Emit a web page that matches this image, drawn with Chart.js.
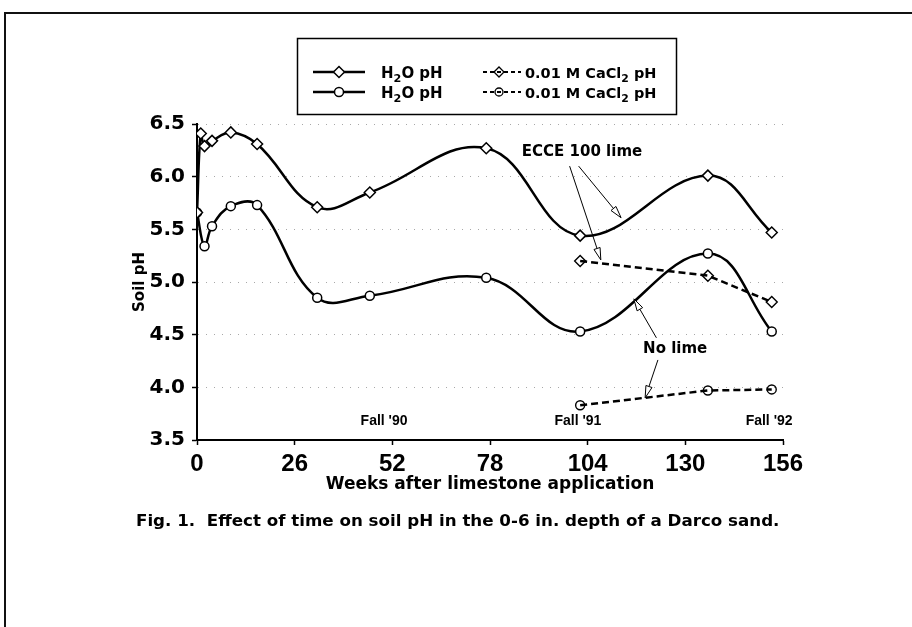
<!DOCTYPE html>
<html>
<head>
<meta charset="utf-8">
<title>Soil pH over time</title>
<script src="https://cdn.jsdelivr.net/npm/chart.js@4"></script>
<style>
  html, body { margin: 0; padding: 0; background: #fff; }
  #wrap { position: relative; width: 912px; height: 627px; overflow: hidden; }
  #frame {
    position: absolute; left: 4px; top: 12px; width: 908px; height: 615px;
    border-top: 2px solid #111; border-left: 2px solid #111; box-sizing: border-box;
  }
  #caption {
    position: absolute; left: 136px; top: 510px;
    font: bold 16.7px "DejaVu Sans", sans-serif; white-space: nowrap; color: #000;
  }
  canvas { position: absolute; left: 0; top: 0; }
</style>
</head>
<body>
<div id="wrap">
  <div id="frame"></div>
  <canvas id="ph-chart" width="912" height="627"></canvas>
  <div id="caption">Fig. 1.&nbsp; Effect of time on soil pH in the 0-6 in. depth of a Darco sand.</div>
</div>
<script>
// weeks after limestone application
const weeksLimeH2O = [0, 1, 2, 4, 9, 16, 32, 46, 77, 102, 136, 153];
const phLimeH2O = [5.66, 6.41, 6.29, 6.34, 6.42, 6.31, 5.71, 5.85, 6.27, 5.44, 6.01, 5.47];

const weeksNoLimeH2O = [0, 2, 4, 9, 16, 32, 46, 77, 102, 136, 153];
const phNoLimeH2O = [5.66, 5.34, 5.53, 5.72, 5.73, 4.85, 4.87, 5.04, 4.53, 5.27, 4.53];

const weeksCaCl2 = [102, 136, 153];
const phLimeCaCl2 = [5.20, 5.06, 4.81];
const phNoLimeCaCl2 = [3.83, 3.97, 3.98];

const xTicks = [0, 26, 52, 78, 104, 130, 156];
const yTicks = [3.5, 4.0, 4.5, 5.0, 5.5, 6.0, 6.5];

const seasonLabels = ["Fall '90", "Fall '91", "Fall '92"];
const seasonWeeks = [49.8, 101.4, 152.3];

Chart.defaults.font.family = '"DejaVu Sans", sans-serif';
Chart.defaults.color = '#000';

function toPoints(xs, ys) {
  return xs.map((x, i) => ({ x: x, y: ys[i] }));
}

// text + arrows placed in data space
const notes = [
  { text: 'ECCE 100 lime', x: 102.5, y: 6.23 },
  { text: 'No lime', x: 127.3, y: 4.36 }
];
const arrows = [
  { from: [99.2, 6.10], to: [107.5, 5.21] },
  { from: [101.6, 6.10], to: [112.9, 5.61] },
  { from: [122.3, 4.47], to: [116.3, 4.84] },
  { from: [122.7, 4.26], to: [119.3, 3.90] }
];

function drawArrow(ctx, x1, y1, x2, y2) {
  const ang = Math.atan2(y2 - y1, x2 - x1);
  const len = 12, half = 3.2;
  const bx = x2 - Math.cos(ang) * len;
  const by = y2 - Math.sin(ang) * len;
  ctx.beginPath();
  ctx.moveTo(x1, y1);
  ctx.lineTo(bx, by);
  ctx.stroke();
  ctx.beginPath();
  ctx.moveTo(x2, y2);
  ctx.lineTo(bx + Math.sin(ang) * half, by - Math.cos(ang) * half);
  ctx.lineTo(bx - Math.sin(ang) * half, by + Math.cos(ang) * half);
  ctx.closePath();
  ctx.fillStyle = '#fff';
  ctx.fill();
  ctx.stroke();
}

// draws "H2O pH" style text with a lowered small 2
function drawSubText(ctx, parts, x, y, size) {
  let cx = x;
  parts.forEach(p => {
    ctx.font = `bold ${p.sub ? size * 0.75 : size}px "DejaVu Sans"`;
    ctx.fillText(p.t, cx, p.sub ? y + size * 0.3 : y);
    cx += ctx.measureText(p.t).width;
  });
}

const notesPlugin = {
  id: 'notes',
  afterDatasetsDraw(chart) {
    const { ctx, scales: { x, y } } = chart;
    ctx.save();
    ctx.fillStyle = '#000';
    ctx.textAlign = 'center';
    ctx.textBaseline = 'middle';
    ctx.font = 'bold 15px "DejaVu Sans"';
    notes.forEach(n => ctx.fillText(n.text, x.getPixelForValue(n.x), y.getPixelForValue(n.y)));

    ctx.font = 'bold 14px "Liberation Sans"';
    seasonLabels.forEach((s, i) => {
      ctx.fillText(s, x.getPixelForValue(seasonWeeks[i]), y.getPixelForValue(3.68));
    });

    ctx.strokeStyle = '#000';
    ctx.lineWidth = 1;
    arrows.forEach(a => {
      drawArrow(ctx,
        x.getPixelForValue(a.from[0]), y.getPixelForValue(a.from[1]),
        x.getPixelForValue(a.to[0]), y.getPixelForValue(a.to[1]));
    });
    ctx.restore();
  },
  afterDraw(chart) {
    const ctx = chart.ctx;
    ctx.save();
    // legend box
    ctx.strokeStyle = '#000';
    ctx.lineWidth = 1.5;
    ctx.strokeRect(297.5, 38.5, 379, 76);

    const rows = [
      { y: 72, style: 'rectRot', r: 5.5 },
      { y: 92, style: 'circle', r: 4.5 }
    ];
    rows.forEach(row => {
      // solid H2O sample
      ctx.setLineDash([]);
      ctx.lineWidth = 2.5;
      ctx.beginPath(); ctx.moveTo(313, row.y); ctx.lineTo(365, row.y); ctx.stroke();
      ctx.fillStyle = '#fff';
      ctx.lineWidth = 1.5;
      Chart.helpers.drawPoint(ctx, { pointStyle: row.style, radius: row.r, borderWidth: 1.5 }, 339, row.y);
      ctx.fillStyle = '#000';
      ctx.textAlign = 'left';
      ctx.textBaseline = 'alphabetic';
      drawSubText(ctx, [{ t: 'H' }, { t: '2', sub: true }, { t: 'O pH' }], 381, row.y + 5.5, 15);

      // dashed CaCl2 sample
      ctx.lineWidth = 2;
      ctx.setLineDash([4, 3]);
      ctx.beginPath(); ctx.moveTo(483, row.y); ctx.lineTo(521, row.y); ctx.stroke();
      ctx.setLineDash([]);
      ctx.lineWidth = 1.3;
      ctx.fillStyle = 'rgba(0,0,0,0)';
      Chart.helpers.drawPoint(ctx, { pointStyle: row.style, radius: row.r - 0.5, borderWidth: 1.3 }, 499, row.y);
      ctx.fillStyle = '#000';
      drawSubText(ctx, [{ t: '0.01 M CaCl' }, { t: '2', sub: true }, { t: ' pH' }], 525, row.y + 5.5, 14.5);
    });
    ctx.restore();
  }
};

const solid = {
  borderColor: '#000', borderWidth: 2.5, tension: 0.4, fill: false,
  pointBackgroundColor: '#fff', pointBorderColor: '#000', pointBorderWidth: 1.5
};
const dashed = {
  borderColor: '#000', borderWidth: 2.5, borderDash: [7, 4], tension: 0, fill: false,
  pointBackgroundColor: 'rgba(0,0,0,0)', pointBorderColor: '#000', pointBorderWidth: 1.4
};

const ctx = document.getElementById('ph-chart').getContext('2d');
const chart = new Chart(ctx, {
  type: 'line',
  data: {
    datasets: [
      Object.assign({ label: 'H2O pH (ECCE 100 lime)', data: toPoints(weeksLimeH2O, phLimeH2O),
        pointStyle: 'rectRot', pointRadius: 5.5 }, solid),
      Object.assign({ label: 'H2O pH (no lime)', data: toPoints(weeksNoLimeH2O, phNoLimeH2O),
        pointStyle: 'circle', pointRadius: 4.5 }, solid),
      Object.assign({ label: '0.01 M CaCl2 pH (ECCE 100 lime)', data: toPoints(weeksCaCl2, phLimeCaCl2),
        pointStyle: 'rectRot', pointRadius: 5.5 }, dashed),
      Object.assign({ label: '0.01 M CaCl2 pH (no lime)', data: toPoints(weeksCaCl2, phNoLimeCaCl2),
        pointStyle: 'circle', pointRadius: 4.5 }, dashed)
    ]
  },
  options: {
    responsive: false,
    animation: false,
    layout: { padding: { left: 0, top: 124, right: 129, bottom: 127 } },
    plugins: {
      legend: { display: false },
      tooltip: { enabled: false }
    },
    scales: {
      x: {
        type: 'linear',
        min: xTicks[0],
        max: xTicks[xTicks.length - 1],
        afterBuildTicks: (scale) => { scale.ticks = xTicks.map(v => ({ value: v })); },
        afterFit: (scale) => { scale.height = 60; },
        ticks: { font: { family: '"Liberation Sans"', size: 24, weight: 'bold' }, padding: 5, maxRotation: 0 },
        grid: { drawOnChartArea: false, tickLength: 5, tickColor: '#000', tickWidth: 1.5 },
        border: { color: '#000', width: 2 },
        title: {
          display: true, text: 'Weeks after limestone application',
          font: { size: 17, weight: 'bold' }, padding: { top: 0, bottom: 5 }
        }
      },
      y: {
        min: yTicks[0],
        max: yTicks[yTicks.length - 1],
        afterBuildTicks: (scale) => { scale.ticks = yTicks.map(v => ({ value: v })); },
        afterFit: (scale) => { scale.width = 197; },
        ticks: { font: { size: 20, weight: 'bold' }, padding: 7, callback: v => v.toFixed(1) },
        grid: {
          color: '#a8a8a8', lineWidth: 1, tickLength: 5, tickColor: '#000', tickWidth: 1.5,
          tickBorderDash: []
        },
        border: { color: '#000', width: 2, dash: [1, 7] },
        title: {
          display: true, text: 'Soil pH',
          font: { size: 15, weight: 'bold' }, padding: { top: 131, bottom: 0 }
        }
      }
    }
  },
  plugins: [notesPlugin]
});
</script>
</body>
</html>
